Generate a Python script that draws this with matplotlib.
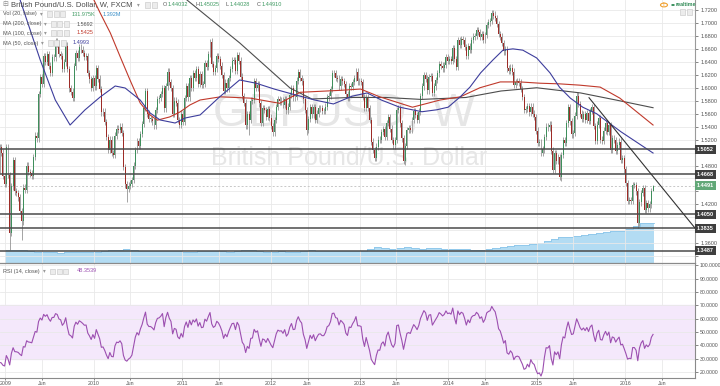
import numpy as np
import pandas as pd
import matplotlib
matplotlib.use('Agg')
import matplotlib.pyplot as plt
import matplotlib.dates as mdates
from matplotlib.patches import Rectangle, Circle

plt.rcParams['font.family'] = ['Liberation Sans', 'DejaVu Sans']

# weekly closes GBP/USD, one per week (week ending Friday)
close_2008 = [1.9900, 1.9760, 1.9980, 1.9890,
              1.9790, 1.9110, 1.8630, 1.8630, 1.8200,
              1.7580, 1.7920, 1.8420, 1.8360,
              1.7740, 1.7150, 1.7210, 1.5610, 1.6160,
              1.5680, 1.4760, 1.4960, 1.5340,
              1.4740, 1.5080, 1.5000, 1.4640]
close_2009 = [1.4520, 1.5080, 1.4650, 1.3760, 1.4480,
              1.4880, 1.4400, 1.4380, 1.4310,
              1.4100, 1.3940, 1.4460, 1.4420,
              1.4800, 1.4700, 1.4680, 1.4640,
              1.4930, 1.5260, 1.5220, 1.5900, 1.6160,
              1.6060, 1.6490, 1.6400, 1.6520,
              1.6340, 1.6230, 1.6470, 1.6470, 1.6710,
              1.6680, 1.6520, 1.6490, 1.6290,
              1.6390, 1.6650, 1.6290, 1.5990,
              1.5940, 1.5840, 1.6330, 1.6540, 1.6460,
              1.6630, 1.6590, 1.6540, 1.6480,
              1.6490, 1.6230, 1.6130, 1.6000]
close_2010 = [1.6150, 1.6020, 1.6300, 1.6140, 1.5980,
              1.5620, 1.5630, 1.5470, 1.5240,
              1.5040, 1.5200, 1.4990, 1.4970,
              1.5260, 1.5370, 1.5350, 1.5400, 1.5300,
              1.4780, 1.4510, 1.4440, 1.4490,
              1.4520, 1.4580, 1.4800, 1.5040,
              1.5180, 1.5100, 1.5290, 1.5440, 1.5690,
              1.5950, 1.5600, 1.5520, 1.5520,
              1.5480, 1.5420, 1.5660, 1.5820,
              1.5840, 1.5900, 1.6000, 1.5680, 1.6020,
              1.6250, 1.6090, 1.6000, 1.5600,
              1.5800, 1.5770, 1.5500, 1.5430, 1.5600]
close_2011 = [1.5470, 1.5840, 1.6030, 1.5850,
              1.6150, 1.6000, 1.6220, 1.6150,
              1.6290, 1.6060, 1.6210, 1.6040,
              1.6060, 1.6380, 1.6320, 1.6520, 1.6710,
              1.6370, 1.6250, 1.6300, 1.6490,
              1.6440, 1.6340, 1.6200, 1.5950,
              1.6080, 1.5990, 1.6150, 1.6290, 1.6420,
              1.6430, 1.6260, 1.6500, 1.6420,
              1.6170, 1.5870, 1.5770, 1.5420, 1.5590,
              1.5500, 1.5800, 1.5810, 1.6100,
              1.6000, 1.6050, 1.5760, 1.5460,
              1.5690, 1.5660, 1.5550, 1.5670, 1.5540]
close_2012 = [1.5410, 1.5310, 1.5500, 1.5700,
              1.5820, 1.5790, 1.5800, 1.5730,
              1.5830, 1.5650, 1.5710, 1.5890, 1.6000,
              1.5850, 1.5860, 1.6110, 1.6240,
              1.6150, 1.6100, 1.5820, 1.5660,
              1.5350, 1.5520, 1.5700, 1.5590, 1.5700,
              1.5500, 1.5600, 1.5680, 1.5690,
              1.5640, 1.5640, 1.5710, 1.5850, 1.5880,
              1.5980, 1.6220, 1.6230, 1.6150,
              1.6140, 1.6020, 1.6130, 1.6100,
              1.6060, 1.5900, 1.5850, 1.6020, 1.6010,
              1.6090, 1.6150, 1.6250, 1.6100]
close_2013 = [1.6100, 1.6090, 1.5860, 1.5690,
              1.5850, 1.5690, 1.5500, 1.5170,
              1.5040, 1.4920, 1.5090, 1.5200, 1.5190,
              1.5320, 1.5360, 1.5240, 1.5460,
              1.5550, 1.5370, 1.5190, 1.5110, 1.5190,
              1.5660, 1.5680, 1.5450, 1.5220,
              1.4870, 1.5100, 1.5350, 1.5380,
              1.5350, 1.5500, 1.5640, 1.5580, 1.5500,
              1.5630, 1.5870, 1.6020, 1.6190,
              1.6140, 1.5960, 1.6160, 1.6180,
              1.5920, 1.6020, 1.6120, 1.6220, 1.6370,
              1.6340, 1.6300, 1.6350, 1.6470]
close_2014 = [1.6420, 1.6440, 1.6420, 1.6610, 1.6440,
              1.6320, 1.6740, 1.6660, 1.6750,
              1.6730, 1.6630, 1.6490, 1.6640,
              1.6580, 1.6740, 1.6790, 1.6800,
              1.6890, 1.6860, 1.6790, 1.6830, 1.6740,
              1.6810, 1.6970, 1.7010, 1.7030,
              1.7150, 1.7110, 1.7080, 1.6980,
              1.6830, 1.6790, 1.6690, 1.6560, 1.6600,
              1.6300, 1.6260, 1.6310, 1.6250,
              1.6050, 1.6090, 1.6100, 1.6080, 1.5980,
              1.5860, 1.5660, 1.5670, 1.5720,
              1.5620, 1.5710, 1.5600, 1.5550]
close_2015 = [1.5340, 1.5150, 1.5160, 1.4990, 1.5050,
              1.5240, 1.5400, 1.5390, 1.5430,
              1.5030, 1.4730, 1.4990, 1.4870,
              1.4930, 1.4630, 1.4960, 1.5190,
              1.5150, 1.5450, 1.5700, 1.5480, 1.5280,
              1.5300, 1.5570, 1.5880, 1.5750,
              1.5600, 1.5520, 1.5590, 1.5510, 1.5610,
              1.5490, 1.5640, 1.5700, 1.5410,
              1.5180, 1.5430, 1.5530, 1.5200,
              1.5180, 1.5340, 1.5450, 1.5320, 1.5420,
              1.5040, 1.5220, 1.5190, 1.5030,
              1.5110, 1.5170, 1.4890, 1.4910]
close_2016 = [1.4740, 1.4530, 1.4250, 1.4270, 1.4250,
              1.4500, 1.4500, 1.4400, 1.3910,
              1.4230, 1.4380, 1.4450, 1.4120,
              1.4220, 1.4140, 1.4200, 1.44032, 1.44910]

# wick extremes
spike_low_dates = ['2009-01-23', '2009-03-13', '2010-05-21', '2011-10-07', '2012-06-01',
                   '2013-07-12', '2015-04-17', '2016-02-26', '2016-04-29']
spike_low_vals = [1.3503, 1.3657, 1.4230, 1.5272, 1.5268, 1.4814, 1.4565, 1.3836, 1.44028]
spike_high_dates = ['2011-04-29', '2014-07-18', '2015-06-19', '2016-04-29']
spike_high_vals = [1.6747, 1.7191, 1.5930, 1.45025]

# moving averages (date, price)
ma50_dates = ['2009-02-10', '2009-03-03', '2009-05-25', '2009-07-26', '2009-09-25', '2009-11-25',
              '2010-01-27', '2010-03-30', '2010-05-10', '2010-07-11', '2010-08-21', '2010-10-01',
              '2010-12-02', '2011-01-12', '2011-03-15', '2011-06-01', '2011-08-25', '2011-11-01',
              '2012-01-15', '2012-04-01', '2012-07-01', '2012-09-15', '2012-12-01', '2013-02-01',
              '2013-04-01', '2013-06-15', '2013-09-15', '2013-11-15', '2014-01-01', '2014-02-20',
              '2014-04-01', '2014-05-15', '2014-07-05', '2014-08-15', '2014-09-25', '2014-11-05',
              '2015-01-01', '2015-02-25', '2015-04-05', '2015-05-20', '2015-07-10', '2015-09-05',
              '2015-12-15', '2016-04-25']
ma50_vals = [1.760, 1.7354, 1.6428, 1.5811, 1.5425, 1.5657,
             1.5857, 1.6027, 1.5996, 1.5811, 1.5611, 1.5503,
             1.5456, 1.5533, 1.5580, 1.585, 1.612, 1.607,
             1.598, 1.590, 1.581, 1.575, 1.587, 1.592,
             1.581, 1.570, 1.563, 1.566, 1.570, 1.586,
             1.601, 1.623, 1.643, 1.658, 1.660, 1.658,
             1.646, 1.623, 1.601, 1.584, 1.570, 1.560,
             1.532, 1.4993]
ma100_dates = ['2009-12-20', '2010-01-27', '2010-03-10', '2010-04-20', '2010-05-30', '2010-07-11',
               '2010-08-21', '2010-09-20', '2010-11-10', '2010-12-22', '2011-02-01', '2011-03-15',
               '2011-06-07', '2011-10-08', '2012-02-06', '2012-05-01', '2012-10-12', '2013-01-05',
               '2013-03-25', '2013-08-07', '2013-11-28', '2014-02-20', '2014-05-12', '2014-08-04',
               '2014-10-23', '2015-01-15', '2015-04-06', '2015-06-28', '2015-09-20', '2015-12-10',
               '2016-04-25']
ma100_vals = [1.745, 1.7154, 1.6845, 1.6475, 1.6120, 1.5765,
              1.5580, 1.5500, 1.5550, 1.5626, 1.5734, 1.5811,
              1.586, 1.584, 1.576, 1.593, 1.596, 1.598,
              1.586, 1.570, 1.581, 1.586, 1.600, 1.609,
              1.609, 1.607, 1.606, 1.604, 1.601, 1.584,
              1.5425]
ma200_dates = ['2010-12-01', '2011-01-20', '2011-08-26', '2012-03-20', '2012-06-18', '2012-11-25',
               '2013-04-20', '2013-09-12', '2014-03-15', '2014-08-07', '2015-01-01', '2015-07-01',
               '2015-11-25', '2016-04-25']
ma200_vals = [1.755, 1.7354, 1.669, 1.5996, 1.5827, 1.585,
              1.585, 1.582, 1.585, 1.595, 1.600, 1.592,
              1.581, 1.5692]

# volume (millions), one value per month, Jan 2009 .. Apr 2016
vol_2009 = [0.45, 0.47, 0.45, 0.42, 0.40, 0.40, 0.38, 0.36, 0.37, 0.40, 0.40, 0.38]
vol_2010 = [0.40, 0.43, 0.45, 0.44, 0.48, 0.47, 0.43, 0.42, 0.41, 0.42, 0.43, 0.41]
vol_2011 = [0.40, 0.40, 0.42, 0.41, 0.42, 0.41, 0.40, 0.43, 0.45, 0.44, 0.42, 0.40]
vol_2012 = [0.40, 0.41, 0.40, 0.40, 0.42, 0.44, 0.43, 0.42, 0.42, 0.42, 0.41, 0.41]
vol_2013 = [0.43, 0.48, 0.55, 0.52, 0.50, 0.53, 0.55, 0.52, 0.50, 0.52, 0.53, 0.50]
vol_2014 = [0.48, 0.50, 0.48, 0.47, 0.46, 0.48, 0.52, 0.55, 0.60, 0.62, 0.62, 0.65]
vol_2015 = [0.68, 0.75, 0.85, 0.90, 0.92, 0.95, 0.98, 1.00, 1.05, 1.08, 1.10, 1.12]
vol_2016 = [1.20, 1.30, 1.38, 1.392]

levels = [1.5052, 1.4668, 1.4050, 1.3835, 1.3487]
last_price = 1.4491
trend_dates = ['2015-08-05', '2016-10-15']
trend_vals = [1.5846, 1.3835]

price_ticks = np.arange(1.34, 1.7201, 0.02)
rsi_ticks = np.arange(20, 101, 10)
years = list(range(2009, 2017))

# ---------------------------------------------------------------
closes = np.array(close_2008 + close_2009 + close_2010 + close_2011 + close_2012 +
                  close_2013 + close_2014 + close_2015 + close_2016)
week_end = pd.date_range(end='2016-04-29', periods=len(closes), freq='W-FRI')
week_start = week_end - pd.Timedelta(days=4)
opens = np.r_[closes[0], closes[:-1]]
wick = 0.005
highs = np.maximum(opens, closes) + wick
lows = np.minimum(opens, closes) - wick
idx = {d: i for i, d in enumerate(week_end.strftime('%Y-%m-%d'))}
for d, v in zip(spike_low_dates, spike_low_vals):
    lows[idx[d]] = v
for d, v in zip(spike_high_dates, spike_high_vals):
    highs[idx[d]] = v

cs = pd.Series(closes, index=week_start)
delta = cs.diff()
gain = delta.clip(lower=0).ewm(alpha=1 / 14, adjust=False).mean()
loss = (-delta.clip(upper=0)).ewm(alpha=1 / 14, adjust=False).mean()
rsi = 100 - 100 / (1 + gain / loss)

W, H = 720, 386
fig = plt.figure(figsize=(7.2, 3.86), dpi=100)
ax_right = 695 / W
pane_split = 1 - 263 / H
rsi_bottom = 1 - 378 / H

vol_ax = fig.add_axes([0, pane_split, ax_right, 1 - pane_split])
ax = fig.add_axes([0, pane_split, ax_right, 1 - pane_split], sharex=vol_ax)
rax = fig.add_axes([0, rsi_bottom, ax_right, pane_split - rsi_bottom], sharex=vol_ax)
ax.patch.set_visible(False)

xmin, xmax = mdates.date2num(pd.Timestamp('2008-12-10')), mdates.date2num(pd.Timestamp('2016-10-15'))
grid_col = '#e9e9e9'
vgrid = []
for y in years:
    vgrid += [pd.Timestamp(f'{y}-01-01'), pd.Timestamp(f'{y}-06-01')]

# volume
vol = np.array(vol_2009 + vol_2010 + vol_2011 + vol_2012 + vol_2013 + vol_2014 + vol_2015 + vol_2016)
vol_x = pd.date_range('2009-01-01', periods=len(vol), freq='MS')
vol_x = list(vol_x) + [pd.Timestamp('2016-04-29')]
vol_y = list(vol) + [vol[-1]]
vol_ax.fill_between(vol_x, 0, vol_y, step='post', color='#b3dcf3', lw=0)
vol_ax.step(vol_x, vol_y, where='post', color='#8cc6ea', lw=0.6)
vol_ax.set_ylim(0, 263 / 28.7)
vol_ax.axis('off')

# grid
for g in vgrid:
    ax.axvline(g, color=grid_col, lw=0.6, zorder=0)
    rax.axvline(g, color=grid_col, lw=0.6, zorder=0)
for t in price_ticks:
    ax.axhline(t, color=grid_col, lw=0.6, zorder=0)

# watermark
ax.text(0.495, 0.565, 'GBPUSD, W', transform=ax.transAxes, ha='center', va='center',
        fontsize=33, color='#e6e6e6', zorder=0.5)
ax.text(0.503, 0.40, 'British Pound/U.S. Dollar', transform=ax.transAxes, ha='center',
        va='center', fontsize=18, color='#e6e6e6', zorder=0.5)

# candles
x = mdates.date2num(week_start)
up = closes >= opens
body = np.maximum(np.abs(closes - opens), 0.0008)
ax.vlines(x, lows, highs, color='#8c8c8c', lw=0.55, zorder=3)
ax.bar(x[up], body[up], bottom=opens[up], width=4, color='#3f8f5c', lw=0, zorder=4)
ax.bar(x[~up], body[~up], bottom=closes[~up], width=4, color='#9d2c27', lw=0, zorder=4)

# moving averages
ax.plot(pd.to_datetime(ma200_dates), ma200_vals, color='#4d4d4d', lw=0.8, zorder=5)
ax.plot(pd.to_datetime(ma100_dates), ma100_vals, color='#c0392b', lw=0.8, zorder=5)
ax.plot(pd.to_datetime(ma50_dates), ma50_vals, color='#3d3d9c', lw=0.8, zorder=5)

# levels and trend line
for lv in levels:
    ax.axhline(lv, color='#4a4a4a', lw=1.1, zorder=6)
ax.axhline(last_price, color='#c8c8c8', lw=0.7, ls=(0, (2, 2)), zorder=2)
ax.plot(pd.to_datetime(trend_dates), trend_vals, color='#333333', lw=0.8, zorder=6)

ax.set_xlim(xmin, xmax)
ax.set_ylim(1.3296, 1.7354)
ax.yaxis.tick_right()
ax.set_yticks(price_ticks)
marked = levels + [last_price]
ax.set_yticklabels(['' if min(abs(t - m) for m in marked) < 0.0105 else f'{t:.4f}'
                    for t in price_ticks])
ax.tick_params(axis='y', labelsize=4, colors='#555555', length=2, width=0.5, pad=2)
ax.tick_params(axis='x', bottom=False, labelbottom=False)
for s in ['left', 'top', 'bottom']:
    ax.spines[s].set_visible(False)
ax.spines['right'].set_color('#9a9a9a')
ax.spines['right'].set_linewidth(0.8)

# price labels on the axis
for lv in levels:
    ax.text(1.003, lv, f'{lv:.4f}', transform=ax.get_yaxis_transform(), fontsize=4,
            fontweight='bold', color='white', va='center', ha='left', zorder=10, clip_on=False,
            bbox=dict(boxstyle='square,pad=0.35', fc='#3e3e3e', ec='none'))
ax.text(1.003, last_price, f'{last_price:.4f}', transform=ax.get_yaxis_transform(), fontsize=4,
        fontweight='bold', color='white', va='center', ha='left', zorder=10, clip_on=False,
        bbox=dict(boxstyle='square,pad=0.35', fc='#62a878', ec='none'))

# RSI pane
rax.axhspan(30, 70, color='#f4e8fb', zorder=0)
for t in rsi_ticks:
    rax.axhline(t, color=grid_col, lw=0.6, zorder=0.5)
rax.plot(rsi.index, rsi.values, color='#9c4fb0', lw=0.8, zorder=3)
rax.set_ylim(15.56, 101.6)
rax.set_xlim(xmin, xmax)
rax.yaxis.tick_right()
rax.set_yticks(rsi_ticks)
rax.set_yticklabels([f'{t:.4f}' for t in rsi_ticks])
rax.tick_params(axis='y', labelsize=3.7, colors='#555555', length=2, width=0.5, pad=1.2)
xt, xl = [], []
for y in years:
    xt += [mdates.date2num(pd.Timestamp(f'{y}-01-01')), mdates.date2num(pd.Timestamp(f'{y}-06-01'))]
    xl += [str(y), 'Jun']
rax.set_xticks(xt)
rax.set_xticklabels(xl)
rax.tick_params(axis='x', labelsize=3.8, colors='#555555', length=1.5, width=0.5, pad=0.5)
rax.spines['left'].set_visible(False)
rax.spines['top'].set_color('#8a8a8a')
rax.spines['top'].set_linewidth(0.9)
for s in ['right', 'bottom']:
    rax.spines[s].set_color('#8a8a8a')
    rax.spines[s].set_linewidth(0.8)


def ftext(px, py, s, **kw):
    kw.setdefault('fontsize', 4)
    kw.setdefault('color', '#555555')
    fig.text(px / W, 1 - py / H, s, va='center', ha='left', **kw)


def icons(px, py, n):
    for k in range(n):
        fig.patches.append(Rectangle(((px + 6.5 * k) / W, 1 - (py + 2.5) / H), 5 / W, 5 / H,
                                     transform=fig.transFigure, fc='#ececec', ec='#c4c4c4', lw=0.4))


# legend block
ftext(2, 5, '\u229f', fontsize=5, color='#888888')
ftext(11, 5, 'British Pound/U.S. Dollar, W, FXCM', fontsize=5.5, color='#4a4a4a')
ftext(137, 5, '\u25be', fontsize=4, color='#999999')
icons(145, 5, 2)
green = '#3f9a62'
for lab, val, px in [('O', '1.44032', 163), ('H', '1.45025', 195),
                     ('L', '1.44028', 225), ('C', '1.44910', 257)]:
    ftext(px, 5, lab, color='#555555')
    ftext(px + 5, 5, val, color=green)

rows = [('Vol (20, false)', 14, 40, [('131.975K', 72, green), ('1.392M', 103, '#3a8fc8')]),
        ('MA (200, close)', 24, 44, [('1.5692', 77, '#555555')]),
        ('MA (100, close)', 33, 44, [('1.5425', 77, '#c0392b')]),
        ('MA (50, close)', 43, 41, [('1.4993', 73, '#3d3d9c')])]
for name, py, carx, vals in rows:
    ftext(3, py, name)
    ftext(carx, py, '\u25be', color='#999999')
    icons(carx + 7, py, 3)
    for v, px, col in vals:
        ftext(px, py, v, color=col)

ftext(3, 271, 'RSI (14, close)')
ftext(43, 271, '\u25be', color='#999999')
icons(50, 271, 3)
ftext(77, 271, '48.3539', color='#9c4fb0')

# realtime badge
fig.patches.append(Circle((664 / W, 1 - 5 / H), 3.5 / W, transform=fig.transFigure,
                          fc='white', ec='#f0a030', lw=0.8))
ftext(663, 5, '!', fontsize=4, color='#f0a030', fontweight='bold')
fig.patches.append(Circle((673 / W, 1 - 5 / H), 1.8 / W, transform=fig.transFigure,
                          fc='#2f8a55', ec='none'))
ftext(676, 5, 'realtime', fontsize=3.8, color='#2f8a55', fontweight='bold')
icons(680, 12, 2)

fig.savefig('out.png', dpi=100)
